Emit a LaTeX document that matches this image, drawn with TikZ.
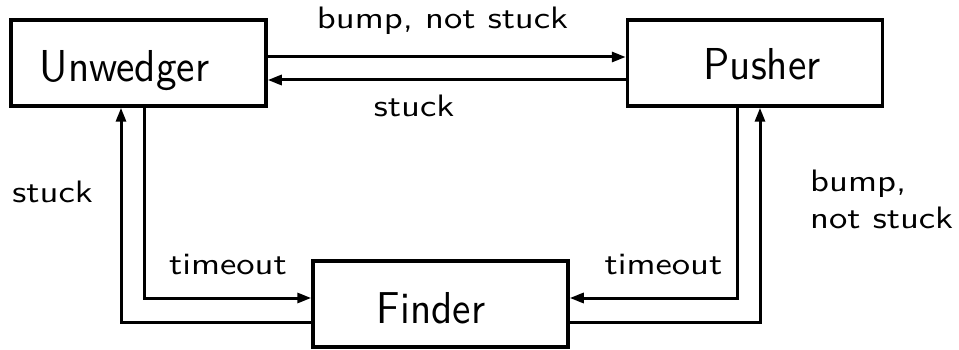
\documentclass[tikz,border=0pt]{standalone}
\usepackage{graphicx}
\usetikzlibrary{arrows.meta}

% text helpers: sans serif at 10pt, stretched to the drawing's scale
\newcommand{\statetext}[1]{\scalebox{4.12}[4.47]{\fontsize{10}{12}\selectfont\sffamily #1}}
\newcommand{\edgetext}[1]{\scalebox{3.66}[3.1]{\fontsize{10}{12}\selectfont\sffamily #1}}

\tikzset{
  statebox/.style={draw, line width=3.5pt, rectangle, minimum width=255pt, minimum height=86pt, inner sep=0pt},
  statename/.style={anchor=base, inner sep=0pt},
  edgelabel/.style={anchor=base, inner sep=0pt},
  conn/.style={line width=3pt, -{Triangle[length=14pt,width=10pt]}},
}

\begin{document}
\begin{tikzpicture}[x=1pt, y=-1pt]
  \useasboundingbox (0,0) rectangle (959,350);

  % the three states
  \node[statebox] (U) at (138.5,63) {};
  \node[statebox] (P) at (755,63) {};
  \node[statebox] (F) at (440.5,304) {};

  \node[statename] (Ut) at (124.5,82) {\statetext{Unwedger}};
  \node[statename] (Pt) at (762,80) {\statetext{Pusher}};
  \node[statename] (Ft) at (431,323) {\statetext{Finder}};

  % transitions between Unwedger and Pusher
  \draw[conn] ([yshift=6pt]U.east) -- ([yshift=6pt]U.east -| P.west);
  \draw[conn] ([yshift=-17pt]P.west) -- ([yshift=-17pt]P.west -| U.east);

  % transitions to and from Finder
  \draw[conn] ([xshift=5.5pt]U.south) |- ([yshift=6pt]F.west);
  \draw[conn] ([yshift=-18pt]F.west) -| ([xshift=-17.5pt]U.south);
  \draw[conn] ([xshift=-18pt]P.south) |- ([yshift=6pt]F.east);
  \draw[conn] ([yshift=-18pt]F.east) -| ([xshift=5pt]P.south);

  % transition labels
  \node[edgelabel] (l1) at (442.5,29) {\edgetext{bump, not stuck}};
  \node[edgelabel] (l2) at (414,117) {\edgetext{stuck}};
  \node[edgelabel] (l3) at (52.5,202) {\edgetext{stuck}};
  \node[edgelabel] (l4) at (228,274) {\edgetext{timeout}};
  \node[edgelabel] (l5) at (663.5,274) {\edgetext{timeout}};
  \node[edgelabel, anchor=base west] (l6) at (810,192) {\edgetext{bump,}};
  \node[edgelabel, anchor=base west] (l7) at (810,229) {\edgetext{not stuck}};
\end{tikzpicture}
\end{document}
